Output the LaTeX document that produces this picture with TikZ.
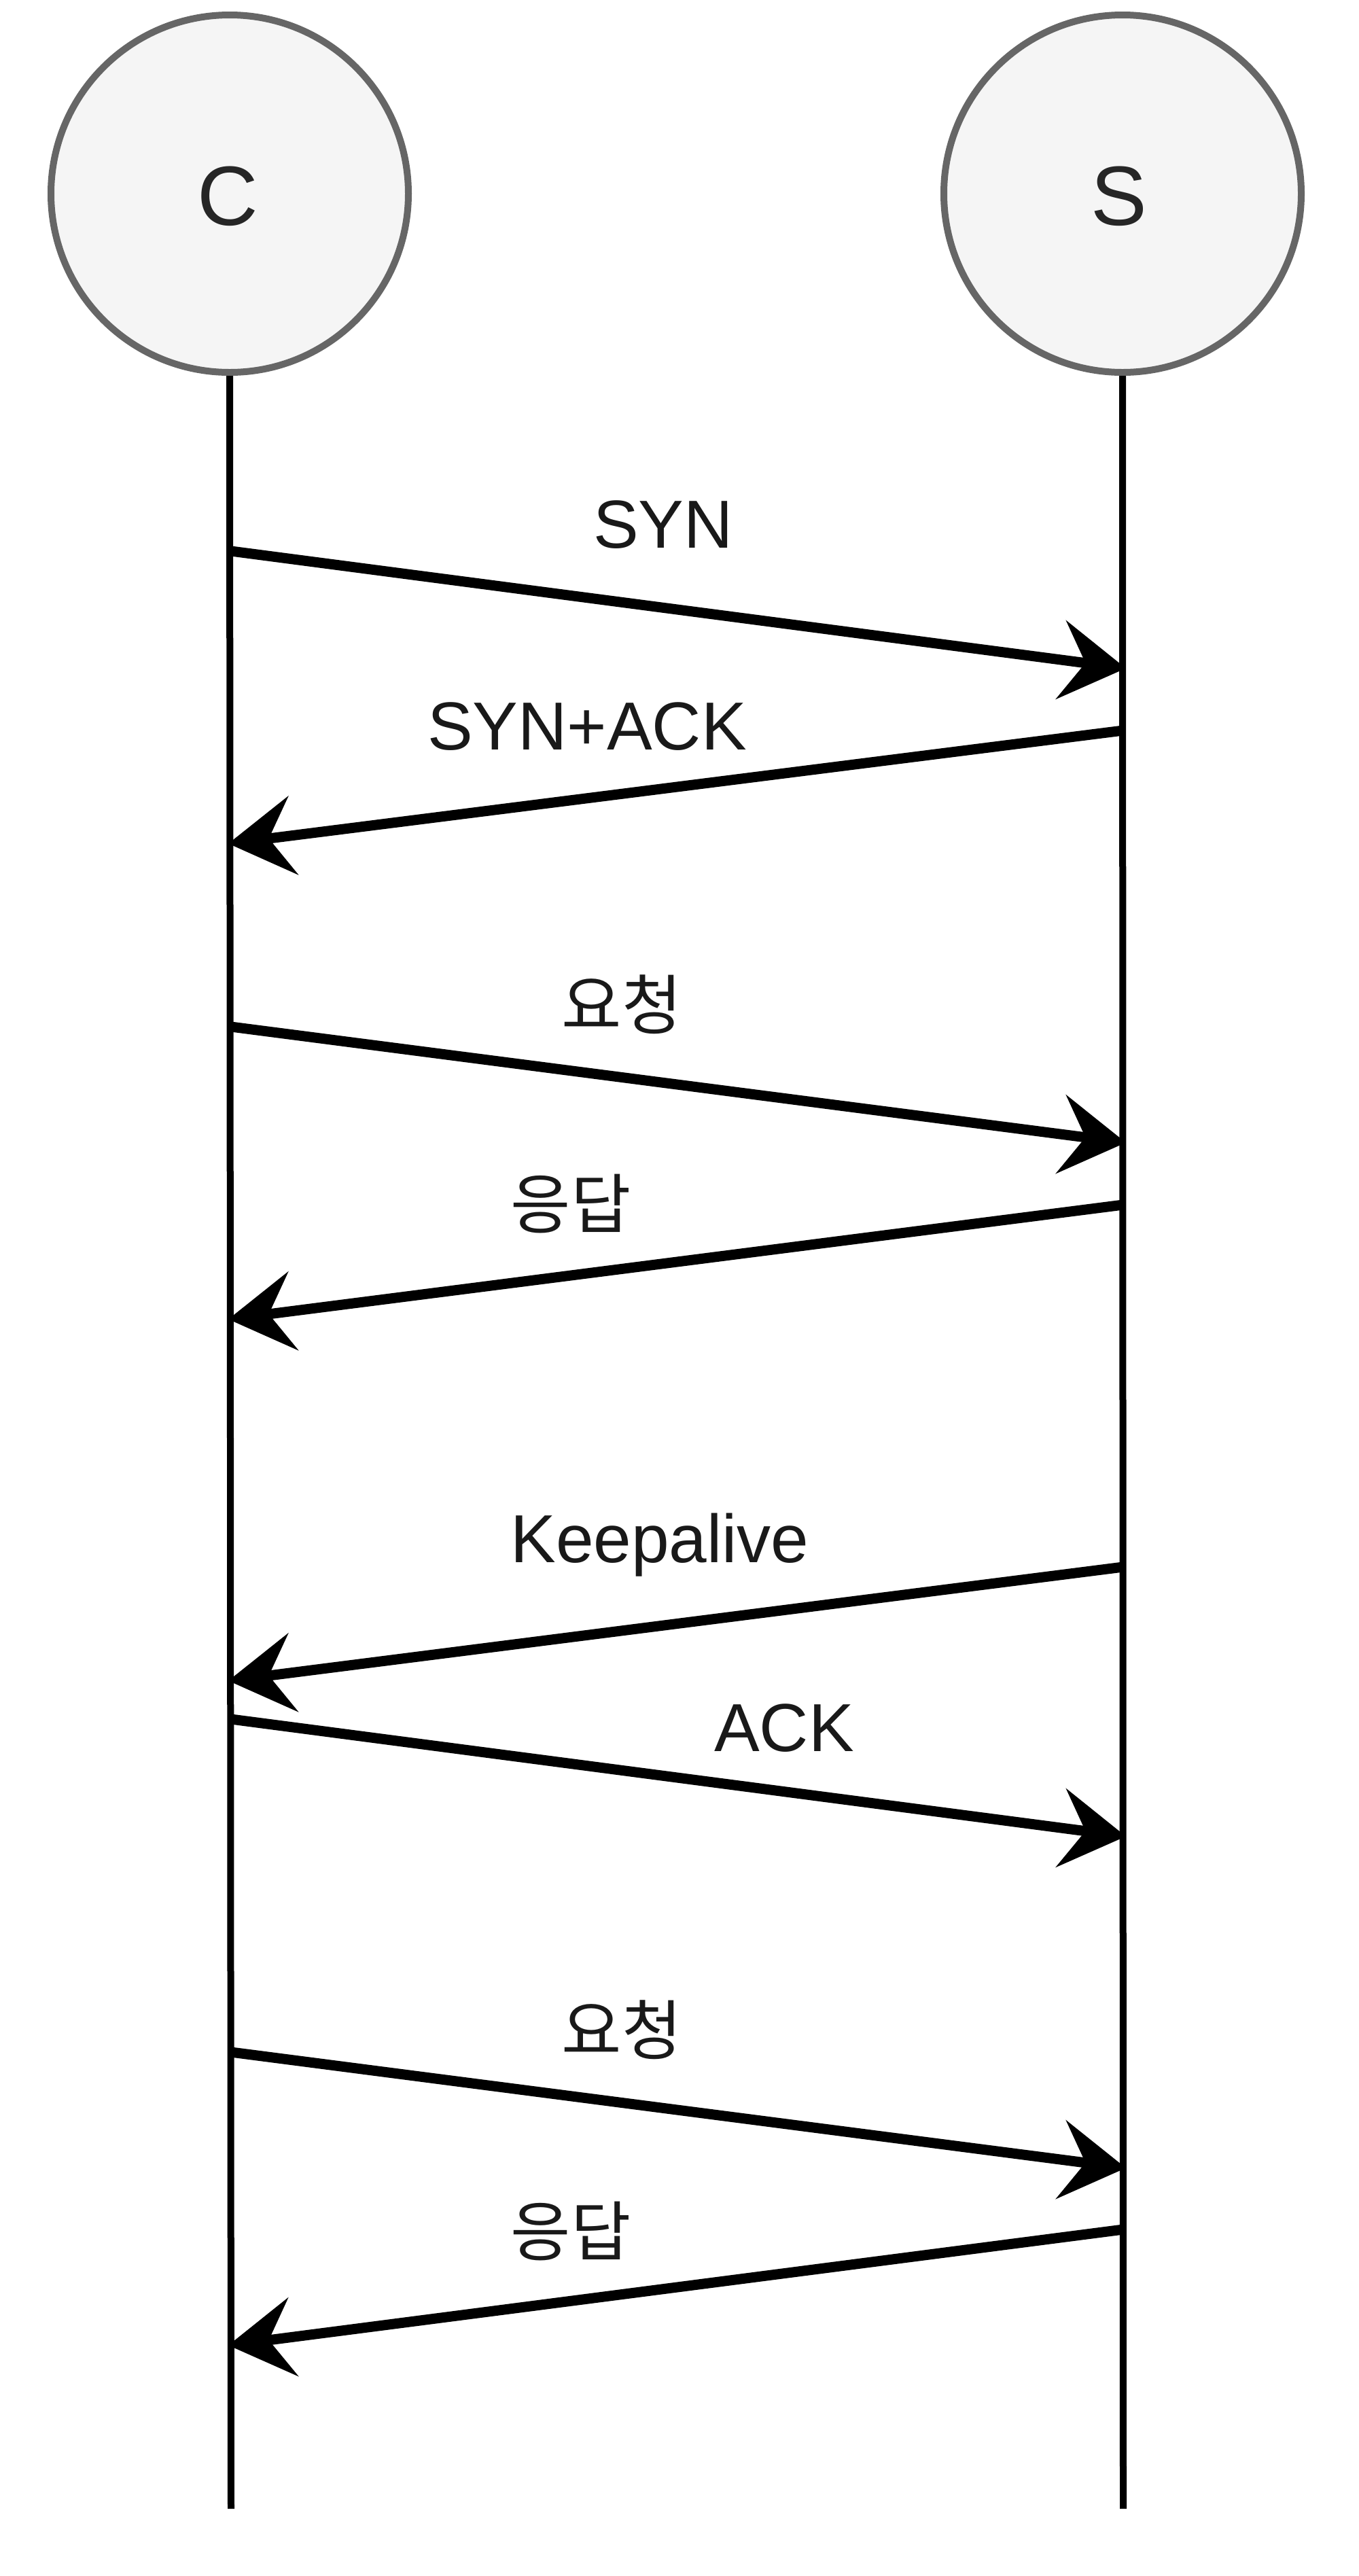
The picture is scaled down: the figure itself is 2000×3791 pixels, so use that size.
\documentclass[tikz,border=0pt]{standalone}
\usepackage{fontspec}
\setmainfont{Liberation Sans}
\newfontfamily\krfont{Noto Sans CJK KR}
\usetikzlibrary{arrows.meta}
\begin{document}
\begin{tikzpicture}[x=0.5pt,y=-0.5pt,
  actor/.style={circle,draw=black!60,fill=black!4,line width=5pt,minimum size=263pt,inner sep=0pt},
  actorlbl/.style={font=\fontsize{62}{70}\selectfont,text=black!85},
  lifeline/.style={line width=5pt,black},
  msg/.style={line width=7.5pt,black,-{Stealth[length=48pt,width=58pt,inset=18pt]},shorten >=-2pt},
  lbl/.style={font=\fontsize{50}{60}\selectfont,text=black!90,inner sep=0pt},
  krlbl/.style={font=\krfont\fontsize{48}{58}\selectfont,text=black!90,inner sep=0pt}]
\useasboundingbox[fill=white] (0,0) rectangle (2000,3791);
% actors
\node[actor] (C) at (338,285) {};
\node[actor] (S) at (1652,285) {};
\node[actorlbl] (Ct) at (335,289) {C};
\node[actorlbl] (St) at (1647,289) {S};
% lifeline ends
\coordinate (Cend) at (340,3692);
\coordinate (Send) at (1653,3692);
\draw[lifeline] (C.south) -- (Cend);
\draw[lifeline] (S.south) -- (Send);
% message points
\coordinate (c1) at (340,811);  \coordinate (s1) at (1653,983);
\coordinate (s2) at (1653,1075); \coordinate (c2) at (340,1241);
\coordinate (c3) at (340,1511); \coordinate (s3) at (1653,1681);
\coordinate (s4) at (1653,1773); \coordinate (c4) at (340,1941);
\coordinate (s5) at (1653,2306); \coordinate (c5) at (340,2473);
\coordinate (c6) at (340,2530); \coordinate (s6) at (1653,2702);
\coordinate (c7) at (340,3020); \coordinate (s7) at (1653,3190);
\coordinate (s8) at (1653,3281); \coordinate (c8) at (340,3451);
% messages
\draw[msg] (c1) -- (s1);
\draw[msg] (s2) -- (c2);
\draw[msg] (c3) -- (s3);
\draw[msg] (s4) -- (c4);
\draw[msg] (s5) -- (c5);
\draw[msg] (c6) -- (s6);
\draw[msg] (c7) -- (s7);
\draw[msg] (s8) -- (c8);
% labels
\node[lbl,anchor=base] (l1) at (976,806) {SYN};
\node[lbl,anchor=base] (l2) at (864,1103) {SYN+ACK};
\node[krlbl] (l3) at (915,1478) {요청};
\node[krlbl] (l4) at (840,1772) {응답};
\node[lbl,anchor=base] (l5) at (971,2299) {Keepalive};
\node[lbl,anchor=base] (l6) at (1154,2577) {ACK};
\node[krlbl] (l7) at (915,2987) {요청};
\node[krlbl] (l8) at (840,3284) {응답};
\end{tikzpicture}
\end{document}
